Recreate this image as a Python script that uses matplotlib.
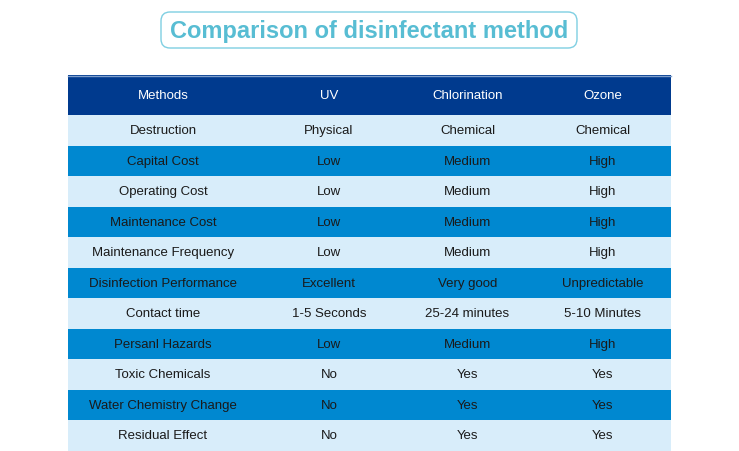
import matplotlib
matplotlib.use('Agg')
import matplotlib.pyplot as plt
from matplotlib.patches import Rectangle, FancyBboxPatch

plt.rcParams['font.family'] = ['Liberation Sans', 'DejaVu Sans']

titulo = 'Comparison of disinfectant method'
columnas = ['Methods', 'UV', 'Chlorination', 'Ozone']
metodos = ['Destruction', 'Capital Cost', 'Operating Cost', 'Maintenance Cost',
           'Maintenance Frequency', 'Disinfection Performance', 'Contact time',
           'Persanl Hazards', 'Toxic Chemicals', 'Water Chemistry Change',
           'Residual Effect']
uv = ['Physical', 'Low', 'Low', 'Low', 'Low', 'Excellent', '1-5 Seconds',
      'Low', 'No', 'No', 'No']
cloracion = ['Chemical', 'Medium', 'Medium', 'Medium', 'Medium', 'Very good',
             '25-24 minutes', 'Medium', 'Yes', 'Yes', 'Yes']
ozono = ['Chemical', 'High', 'High', 'High', 'High', 'Unpredictable',
         '5-10 Minutes', 'High', 'Yes', 'Yes', 'Yes']

# Colores
azul_oscuro = '#003a8e'
azul_medio = '#0088d0'
azul_claro = '#d8edfa'
cian = '#58bdd3'

W, H = 739, 452
fig = plt.figure(figsize=(W / 100, H / 100), dpi=100)
ax = fig.add_axes([0, 0, 1, 1])
ax.set_xlim(0, W)
ax.set_ylim(H, 0)
ax.axis('off')

# Geometría de la tabla (en píxeles)
x0, x1 = 68, 671
bordes = [68, 258, 400, 535, 671]
centros = [(bordes[i] + bordes[i + 1]) / 2 for i in range(4)]
y_cab, alto_cab = 76, 40
alto_fila = 30.5

# Título
caja = FancyBboxPatch((161, 13), 416, 36, boxstyle='round,pad=0,rounding_size=9',
                      facecolor='white', edgecolor='#7fcfe2', linewidth=1.0)
ax.add_patch(caja)
ax.text(W / 2 - 0.5, 31.5, titulo, ha='center', va='center', fontsize=17,
        fontweight='bold', color=cian)

# Cabecera
ax.add_patch(Rectangle((x0, y_cab), x1 - x0, alto_cab, facecolor=azul_oscuro,
                       edgecolor='none'))
ax.plot([x0, x1], [y_cab + 0.5, y_cab + 0.5], color='#7f9fcc', lw=1)
for c, txt in zip(centros, columnas):
    ax.text(c, y_cab + alto_cab / 2, txt, ha='center', va='center',
            fontsize=9.5, color='white')

# Filas
filas = list(zip(metodos, uv, cloracion, ozono))
for i, fila in enumerate(filas):
    y = y_cab + alto_cab + i * alto_fila
    color = azul_claro if i % 2 == 0 else azul_medio
    ax.add_patch(Rectangle((x0, y), x1 - x0, alto_fila, facecolor=color,
                           edgecolor='none'))
    for c, txt in zip(centros, fila):
        ax.text(c, y + alto_fila / 2, txt, ha='center', va='center',
                fontsize=9.5, color='#1a1a1a')

fig.savefig('out.png', dpi=100)
